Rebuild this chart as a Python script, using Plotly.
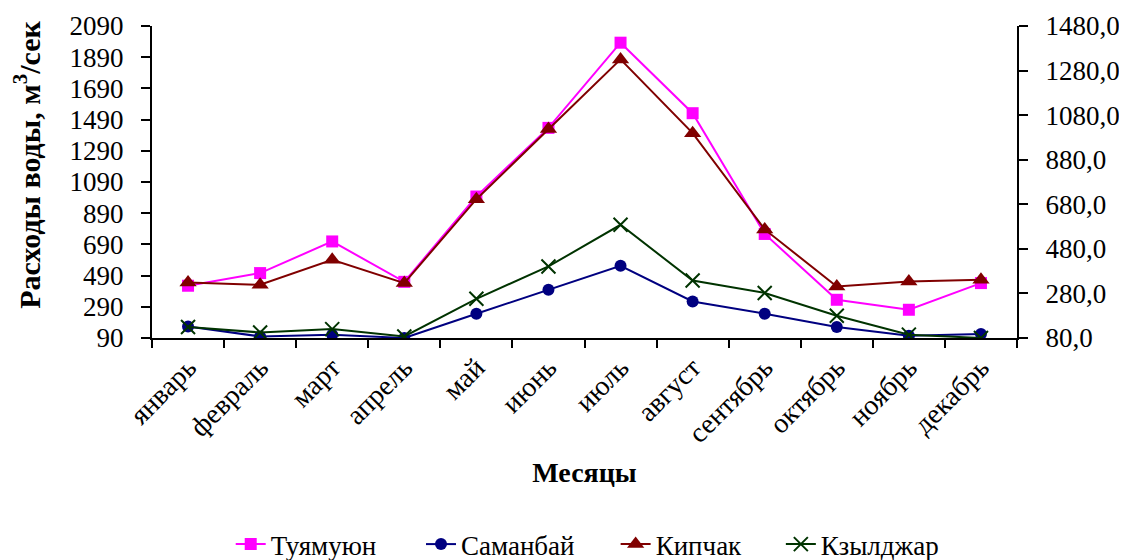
import plotly.graph_objects as go

months = ["январь", "февраль", "март", "апрель", "май", "июнь",
          "июль", "август", "сентябрь", "октябрь", "ноябрь", "декабрь"]

# left axis
tuyamuyun = [425, 506, 709, 450, 997, 1437, 1983, 1531, 757, 335, 271, 442]
kipchak = [445, 431, 591, 442, 980, 1430, 1876, 1403, 786, 420, 452, 463]
# right axis
samanbai = [132, 87, 95, 80, 189, 297, 404, 244, 189, 129, 90, 98]
kzyldzhar = [129, 105, 120, 87, 256, 401, 588, 338, 282, 180, 95, 80]

FONT = "Liberation Serif, Times New Roman, DejaVu Serif, serif"

fig = go.Figure()

fig.add_trace(go.Scatter(
    x=months, y=tuyamuyun, name="Туямуюн", mode="lines+markers",
    line=dict(color="#FF00FF", width=2), legend="legend",
    marker=dict(symbol="square", size=12, color="#FF00FF")
))
fig.add_trace(go.Scatter(
    x=months, y=samanbai, name="Саманбай", mode="lines+markers", yaxis="y2",
    line=dict(color="#000080", width=2), legend="legend2",
    marker=dict(symbol="circle", size=12, color="#000080")
))
fig.add_trace(go.Scatter(
    x=months, y=kipchak, name="Кипчак", mode="lines+markers",
    line=dict(color="#800000", width=2), legend="legend3",
    marker=dict(symbol="triangle-up", size=15, color="#800000")
))
fig.add_trace(go.Scatter(
    x=months, y=kzyldzhar, name="Кзылджар", mode="lines+markers", yaxis="y2",
    line=dict(color="#003300", width=2), legend="legend4",
    marker=dict(symbol="x-thin", size=14, color="#003300",
                line=dict(color="#003300", width=2))
))

tick_font = dict(family=FONT, size=27, color="black")


def legend_at(x):
    return dict(
        orientation="h", x=x, xanchor="left",
        yref="container", y=0.028, yanchor="middle",
        font=dict(family=FONT, size=27, color="black"),
        bgcolor="rgba(0,0,0,0)"
    )


# the page adds an 8px body margin, so the figure is a bit smaller
fig.update_layout(
    width=1119, height=552,
    margin=dict(l=144, r=110, t=18, b=222),
    plot_bgcolor="white", paper_bgcolor="white",
    separators=", ",
    showlegend=True,
    legend=legend_at(0.091),
    legend2=legend_at(0.311),
    legend3=legend_at(0.536),
    legend4=legend_at(0.727),
    xaxis=dict(
        type="category", categoryorder="array", categoryarray=months,
        range=[-0.5, 11.5], tickson="boundaries", automargin=False,
        showline=True, linecolor="black", linewidth=2,
        ticks="outside", ticklen=8, tickwidth=2, tickcolor="black",
        tickangle=-45, tickfont=dict(family=FONT, size=28, color="black"),
        showgrid=False, zeroline=False,
        title=dict(text="<b>Месяцы</b>",
                   font=dict(family=FONT, size=28, color="black"))
    ),
    xaxis2=dict(
        overlaying="x", range=[0, 12], tick0=0, dtick=1, automargin=False,
        ticks="inside", ticklen=8, tickwidth=2, tickcolor="black",
        showticklabels=False, showgrid=False, zeroline=False, showline=False
    ),
    yaxis=dict(
        range=[90, 2090], tick0=90, dtick=200, automargin=False,
        showline=True, linecolor="black", linewidth=2,
        ticks="outside", ticklen=9, tickwidth=2, tickcolor="black",
        ticklabelstandoff=12,
        tickfont=tick_font, showgrid=False, zeroline=False
    ),
    yaxis2=dict(
        overlaying="y", side="right", range=[80, 1480], tick0=80, dtick=200,
        tickformat=".1f", automargin=False,
        showline=True, linecolor="black", linewidth=2,
        ticks="outside", ticklen=9, tickwidth=2, tickcolor="black",
        ticklabelstandoff=12,
        tickfont=tick_font, showgrid=False, zeroline=False
    ),
    yaxis3=dict(
        overlaying="y", side="left", range=[90, 2090], tick0=90, dtick=200,
        ticks="inside", ticklen=8, tickwidth=2, tickcolor="black",
        automargin=False,
        showticklabels=False, showgrid=False, zeroline=False, showline=False
    ),
    yaxis4=dict(
        overlaying="y", side="right", range=[80, 1480], tick0=80, dtick=200,
        ticks="inside", ticklen=8, tickwidth=2, tickcolor="black",
        automargin=False,
        showticklabels=False, showgrid=False, zeroline=False, showline=False
    ),
)

# y-axis title sits a little above the plot centre in the original
fig.add_annotation(
    text="<b>Расходы воды, м<sup>3</sup>/сек</b>",
    xref="paper", yref="paper", x=-0.1445, y=0.555,
    xanchor="center", yanchor="middle", textangle=-90, showarrow=False,
    font=dict(family=FONT, size=30, color="black")
)

fig.write_html("out.html")
